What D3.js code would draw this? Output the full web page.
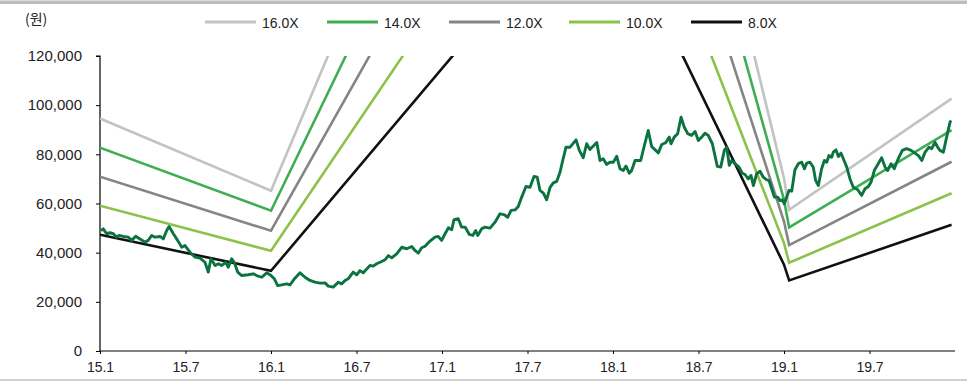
<!DOCTYPE html>
<html><head><meta charset="utf-8">
<script src="https://cdn.jsdelivr.net/npm/d3@7/dist/d3.min.js"></script>
<style>
html,body{margin:0;padding:0;background:#fff;}
svg{display:block;}
text{font-family:"Liberation Sans",Arial,sans-serif;fill:#222;}
</style></head>
<body><svg id="c" width="967" height="383"></svg>
<script>
// ---------- data ----------
const baseYear = 2015;
const tickPos = [0, 0.5, 1, 1.5, 2, 2.5, 3, 3.5, 4, 4.5];
const tickLabels = ["15.1","15.7","16.1","16.7","17.1","17.7","18.1","18.7","19.1","19.7"];
const yTicks = [0, 20000, 40000, 60000, 80000, 100000, 120000];

const seriesNames = ["16.0X","14.0X","12.0X","10.0X","8.0X"];
const multiples = [16, 14, 12, 10, 8];
const seriesColors = ["#c3c3c3","#3fae52","#858585","#8cc24a","#111111"];

// EPS path (years since 15.1) used for PER bands
const epsT = [0, 1.0, 2.917, 4.0, 4.03, 4.98];
const epsV = [5910, 4076, 23800, 4390, 3590, 6415];

// stock price (years since 15.1, won)
const priceT = [0.006,0.019,0.039,0.058,0.078,0.098,0.111,0.136,0.165,0.185,0.209,0.234,0.263,0.282,0.302,0.322,0.351,0.370,0.390,0.404,0.429,0.454,0.478,0.497,0.526,0.556,0.585,0.614,0.633,0.649,0.673,0.692,0.712,0.735,0.750,0.770,0.785,0.805,0.829,0.867,0.896,0.916,0.946,0.975,1.000,1.019,1.039,1.063,1.092,1.111,1.140,1.170,1.199,1.228,1.257,1.287,1.316,1.335,1.364,1.394,1.413,1.433,1.452,1.481,1.501,1.520,1.540,1.560,1.579,1.598,1.618,1.647,1.667,1.686,1.706,1.735,1.764,1.794,1.823,1.842,1.861,1.881,1.901,1.930,1.959,1.978,1.998,2.018,2.037,2.057,2.070,2.095,2.115,2.135,2.160,2.180,2.197,2.209,2.232,2.251,2.281,2.310,2.339,2.363,2.384,2.404,2.427,2.446,2.466,2.491,2.515,2.538,2.557,2.573,2.593,2.612,2.632,2.651,2.671,2.690,2.706,2.725,2.749,2.784,2.803,2.826,2.846,2.865,2.905,2.924,2.943,2.963,2.982,3.002,3.022,3.041,3.060,3.076,3.095,3.109,3.129,3.162,3.181,3.206,3.226,3.265,3.285,3.308,3.329,3.339,3.358,3.378,3.398,3.417,3.437,3.460,3.480,3.499,3.522,3.538,3.557,3.581,3.596,3.610,3.630,3.651,3.665,3.680,3.694,3.713,3.737,3.756,3.772,3.791,3.807,3.821,3.840,3.860,3.879,3.899,3.912,3.928,3.944,3.963,3.977,3.990,4.002,4.016,4.029,4.045,4.064,4.084,4.104,4.119,4.133,4.152,4.171,4.185,4.201,4.220,4.236,4.250,4.263,4.279,4.288,4.304,4.318,4.333,4.347,4.367,4.386,4.405,4.431,4.454,4.474,4.493,4.509,4.528,4.551,4.571,4.591,4.606,4.626,4.645,4.668,4.692,4.717,4.743,4.766,4.786,4.806,4.825,4.848,4.864,4.883,4.899,4.912,4.932,4.952,4.971,4.977];
const priceV = [49000,49700,47700,48100,47700,46300,47000,46600,46300,45000,46700,45600,44300,45000,47000,46300,46600,45600,49000,50600,47700,45000,42200,42900,40200,38200,37800,36100,32100,37500,34800,35500,34800,36100,34100,37500,36100,32100,30700,31000,31400,30700,30000,31800,30700,29400,26600,26900,27300,26900,29600,31800,30000,28700,28000,27600,27700,26400,26000,28000,27300,28700,29400,32100,31000,32700,31800,33400,34800,34500,35500,36400,37100,38800,37900,39500,42200,41600,42500,40900,39800,42000,42600,44700,46300,46600,45000,47700,50100,49300,53400,53800,50400,50400,47400,47000,49000,47000,49700,50400,50000,52400,55800,55500,54400,57200,57400,58800,62600,66900,66600,71000,70700,65300,64200,61500,66600,68400,69000,72700,77500,82900,82900,85900,81600,78600,84300,82000,84800,77500,78200,75900,76800,76800,79200,74100,73400,75200,72300,73400,77500,77500,82900,89700,83200,80600,84000,84700,87000,84300,87000,88400,95100,91000,88400,87700,89300,85600,87300,88600,87700,84300,79500,75100,74800,81600,82900,75500,77500,76200,74800,72300,71800,70000,71400,67300,72100,73100,70700,69600,69400,66000,62600,62600,61200,61500,59900,62600,65300,65000,73700,76200,76800,74100,76400,76800,74800,69400,67300,74100,77500,76800,79500,78800,80900,81800,79100,80500,78200,74800,70000,66600,65600,63300,66000,66900,68700,73400,76200,78600,74800,73400,76200,74100,78200,81600,82300,81600,80500,79500,77500,80900,82900,82300,84900,82900,81600,80900,87300,93100,93800];
const priceColor = "#0b7340";

// ---------- chart ----------
const svg = d3.select("#c");
const W = 967, H = 383;
const m = {left:100, right:955, top:56, bottom:351};

const x = d3.scaleLinear().domain([baseYear, baseYear + 5]).range([m.left, m.right]);
const y = d3.scaleLinear().domain([0, 120000]).range([m.bottom, m.top]);

// frame rules
svg.append("rect").attr("x",0).attr("y",0.5).attr("width",W).attr("height",3.5).attr("fill","#bdbdbd");
svg.append("rect").attr("x",0).attr("y",379).attr("width",W).attr("height",2).attr("fill","#cfcfcf");

svg.append("defs").append("clipPath").attr("id","clip")
  .append("rect").attr("x",m.left).attr("y",m.top).attr("width",m.right-m.left+2).attr("height",m.bottom-m.top);

// axes
const yAxis = svg.append("g").attr("transform",`translate(${m.left},0)`)
  .call(d3.axisLeft(y).tickValues(yTicks).tickFormat(d3.format(",")).tickSize(4).tickPadding(14));
const xAxis = svg.append("g").attr("transform",`translate(0,${m.bottom})`)
  .call(d3.axisBottom(x).tickValues(tickPos.map(d => baseYear + d)).tickFormat((d,i) => tickLabels[i]).tickSize(3).tickPadding(8));
[yAxis, xAxis].forEach(g => {
  g.selectAll(".domain").attr("stroke","#000").attr("stroke-width",1.2);
  g.selectAll(".tick line").attr("stroke","#000").attr("stroke-width",1);
});
yAxis.select(".domain").attr("d", `M-4,${m.top}H0V${m.bottom}`);
xAxis.select(".domain").attr("d", `M${m.left},0H${m.right}`);
yAxis.selectAll("text").attr("font-size",15).attr("fill","#222").style("font-family","'Liberation Sans',Arial,sans-serif");
xAxis.selectAll("text").attr("font-size",14).attr("fill","#222").style("font-family","'Liberation Sans',Arial,sans-serif");

// unit label
svg.append("text").attr("x",25).attr("y",24).attr("font-size",14)
  .style("font-family","'Noto Sans CJK KR','Liberation Sans',sans-serif").text("(원)");

// PER band lines
const plot = svg.append("g").attr("clip-path","url(#clip)");
const line = d3.line().x(d => x(baseYear + d[0])).y(d => y(d[1]));
multiples.forEach((mult, i) => {
  const pts = epsT.map((t, j) => [t, epsV[j] * mult]);
  plot.append("path").attr("d", line(pts)).attr("fill","none")
    .attr("stroke", seriesColors[i]).attr("stroke-width", 2.6).attr("stroke-linejoin","miter");
});

// price line
const pricePts = priceT.map((t, j) => [t, priceV[j]]);
svg.append("path").attr("d", line(pricePts)).attr("fill","none")
  .attr("stroke", priceColor).attr("stroke-width", 2.9).attr("stroke-linejoin","round");

// legend
const legX = [205, 327, 449, 569, 691];
const leg = svg.append("g");
seriesNames.forEach((name, i) => {
  leg.append("line").attr("x1",legX[i]).attr("x2",legX[i]+51).attr("y1",22).attr("y2",22)
    .attr("stroke",seriesColors[i]).attr("stroke-width",3);
  leg.append("text").attr("x",legX[i]+57).attr("y",27.5).attr("font-size",14).text(name);
});
</script></body></html>
